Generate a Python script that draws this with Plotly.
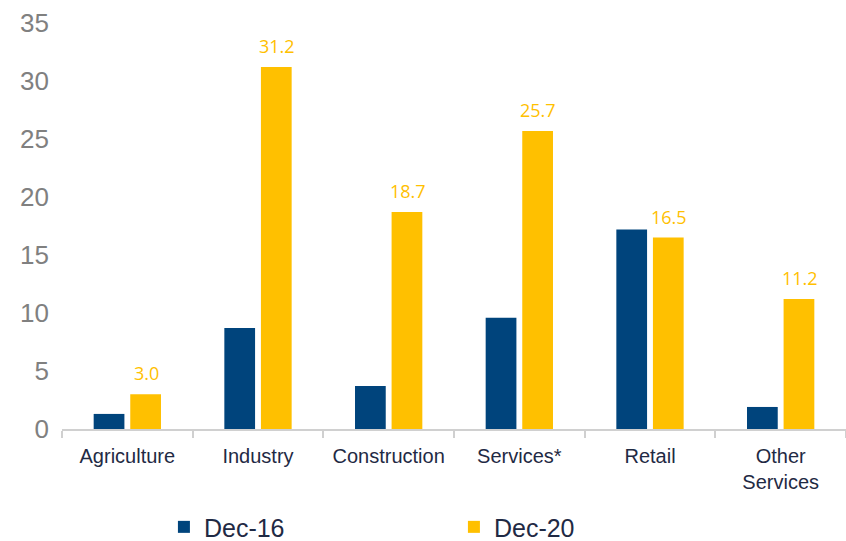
import plotly.graph_objects as go

categories = ["Agriculture", "Industry", "Construction", "Services*", "Retail", "Other<br>Services"]
dec16 = [1.3, 8.7, 3.7, 9.6, 17.2, 1.9]
dec20 = [3.0, 31.2, 18.7, 25.7, 16.5, 11.2]
y_ticks = [0, 5, 10, 15, 20, 25, 30, 35]

NAVY = "#00447C"
GOLD = "#FFC000"
SANS = "Liberation Sans, Arial, sans-serif"

fig = go.Figure()
fig.add_trace(go.Bar(name="Dec-16", x=categories, y=dec16, marker_color=NAVY,
                     marker_line_width=0))
fig.add_trace(go.Bar(name="Dec-20", x=categories, y=dec20, marker_color=GOLD,
                     marker_line_width=0))

# value labels above the Dec-20 bars
for i, v in enumerate(dec20):
    fig.add_annotation(x=categories[i], y=v, text=f"{v:.1f}", showarrow=False,
                       xref="x", yref="y", xshift=19, yanchor="bottom", yshift=7,
                       font=dict(family="Open Sans, sans-serif", size=18, color=GOLD))

fig.update_layout(
    width=846, height=541,
    margin=dict(l=62, r=0, t=23, b=112, autoexpand=False),
    plot_bgcolor="white", paper_bgcolor="white",
    barmode="group", bargap=0.44, bargroupgap=0.16,
    showlegend=True,
    legend=dict(orientation="h", x=0.13, xanchor="left", y=-0.185, yanchor="top",
                font=dict(family=SANS, size=25, color="#1F2A44"),
                entrywidth=245, entrywidthmode="pixels", itemwidth=30),
    xaxis=dict(range=[-0.5, 5.5], showline=True, linecolor="#D0D0D0", linewidth=2,
               ticks="outside", tickson="boundaries", ticklen=7, tickcolor="#D0D0D0",
               tickwidth=2, showgrid=False, tickangle=0, automargin=False,
               ticklabelstandoff=8,
               tickfont=dict(family=SANS, size=20, color="#1F2A44")),
    yaxis=dict(range=[0, 35], tickvals=y_ticks, showgrid=False, zeroline=False,
               showline=False, ticks="", ticklabelstandoff=12, automargin=False,
               tickfont=dict(family=SANS, size=26, color="#808080")),
)

fig.write_html("out.html")
